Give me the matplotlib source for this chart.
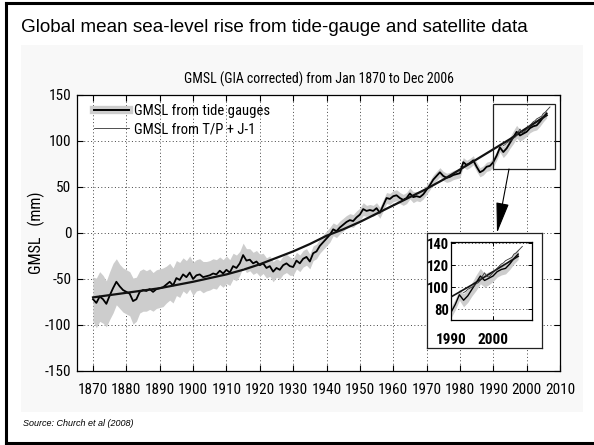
import numpy as np
import matplotlib
matplotlib.use("Agg")
import matplotlib.pyplot as plt
from matplotlib.patches import Rectangle, FancyArrowPatch
from matplotlib.lines import Line2D
from matplotlib.legend_handler import HandlerTuple
from matplotlib import font_manager

# ---------------- data ----------------
tide_years = list(range(1870, 2007))
tide_gmsl = [
    -72, -76, -69, -72, -77, -68, -60, -53, -58, -62,
    -64, -66, -74, -72, -64, -62, -63, -61, -64, -61,
    -60, -59, -56, -53, -57, -49, -51, -45, -48, -43,
    -50, -46, -45, -48, -47, -46, -44, -45, -41, -44,
    -40, -43, -36, -38, -33, -24, -30, -29, -33, -31,
    -35, -33, -38, -36, -42, -38, -40, -35, -33, -36,
    -37, -30, -33, -28, -26, -31, -22, -20, -14, -10,
    -6, -2, 4, 2, 6, 9, 12, 14, 13, 17,
    20, 26, 24, 25, 24, 27, 22, 30, 38, 37,
    40, 41, 38, 36, 38, 43, 39, 40, 39, 42,
    47, 52, 58, 62, 66, 62, 60, 61, 63, 64,
    65, 77, 74, 76, 79, 72, 66, 68, 72, 73,
    77, 84, 93, 88, 92, 98, 104, 110, 106, 108,
    110, 114, 116, 117, 121, 126, 130,
]
tide_err = [
    24, 27, 27, 26, 25, 26, 27, 25, 24, 24,
    24, 24, 25, 24, 23, 23, 22, 22, 21, 21,
    21, 21, 20, 20, 19, 19, 19, 18, 18, 18,
    18, 17, 17, 17, 16, 16, 16, 16, 15, 15,
    15, 14, 14, 14, 13, 13, 13, 12, 12, 12,
    12, 11, 11, 11, 11, 10, 10, 10, 10, 10,
    9, 9, 9, 9, 9, 8, 8, 8, 8, 8,
    8, 8, 7, 7, 7, 7, 7, 7, 7, 7,
    7, 7, 6, 6, 6, 6, 6, 6, 6, 6,
    6, 6, 6, 6, 6, 6, 6, 5, 5, 5,
    5, 5, 5, 5, 5, 5, 5, 5, 5, 5,
    5, 5, 5, 5, 5, 5, 5, 5, 5, 5,
    5, 5, 5, 6, 6, 6, 7, 7, 6, 6,
    5, 5, 5, 5, 5, 5, 5,
]
fit_years = [1870, 1875, 1880, 1885, 1890, 1895, 1900, 1905, 1910, 1915,
             1920, 1925, 1930, 1935, 1940, 1945, 1950, 1955, 1960, 1965,
             1970, 1975, 1980, 1985, 1990, 1995, 2000, 2006]
fit_gmsl = [-70, -67.5, -65, -62.5, -60, -56.5, -53, -49, -45, -40,
            -34, -27, -20, -12, -3, 4, 12, 21, 30, 39,
            48, 58, 69, 80, 91, 102, 114, 128]
sat_years = [1993.0, 1993.5, 1994.0, 1994.5, 1995.0, 1995.5, 1996.0, 1996.5,
             1997.0, 1997.5, 1998.0, 1998.5, 1999.0, 1999.5, 2000.0, 2000.5,
             2001.0, 2001.5, 2002.0, 2002.5, 2003.0, 2003.5, 2004.0, 2004.5,
             2005.0, 2005.5, 2006.0, 2006.5, 2007.0]
sat_gmsl = [95, 96, 98, 99, 100, 101, 103, 104,
            106, 110, 113, 110, 109, 111, 113, 115,
            117, 119, 121, 122, 124, 125, 126, 127,
            130, 131, 133, 135, 137]

x_ticks = [1870, 1880, 1890, 1900, 1910, 1920, 1930, 1940, 1950, 1960,
           1970, 1980, 1990, 2000, 2010]
y_ticks = [-150, -100, -50, 0, 50, 100, 150]
inset_x_ticks = [1990, 2000]
inset_y_ticks = [80, 100, 120, 140]

# ---------------- styling ----------------
names = {f.name for f in font_manager.fontManager.ttflist}
NARROW = ["Liberation Sans Narrow", "DejaVu Sans"] if "Liberation Sans Narrow" in names \
    else ["Roboto Condensed", "Liberation Sans", "DejaVu Sans"]
SANS = ["Liberation Sans", "DejaVu Sans"]
band_col = "#cdcdcd"

W, H = 594, 445
fig = plt.figure(figsize=(W / 100, H / 100), dpi=100)
fig.patch.set_facecolor("white")


def fx(px):
    return px / W


def fy(py):
    return 1 - py / H


# faint background panel of the pasted chart
fig.patches.append(Rectangle((fx(21), fy(412)), fx(583) - fx(21), fy(45) - fy(412),
                             transform=fig.transFigure, facecolor="#f8f8f8",
                             edgecolor="none", zorder=-10))
# outer slide frame
for xs, ys in [((6, 6), (3, 443)), ((6, 600), (3, 3)), ((6, 600), (443, 443))]:
    fig.add_artist(Line2D([fx(xs[0]), fx(xs[1])], [fy(ys[0]), fy(ys[1])],
                          transform=fig.transFigure, color="black", lw=2.2))

fig.text(fx(21), fy(27), "Global mean sea-level rise from tide-gauge and satellite data",
         family=SANS, fontsize=13.6, ha="left", va="center")
fig.text(fx(23), fy(423), "Source: Church et al (2008)", family=SANS,
         fontsize=6.5, style="italic", ha="left", va="center")

# ---------------- main axes ----------------
ax = fig.add_axes([fx(77), fy(371), fx(560) - fx(77), fy(95) - fy(371)])
ax.set_zorder(2)
ax.set_facecolor("white")
tg = np.array(tide_gmsl, dtype=float)
te = np.array(tide_err, dtype=float)
ax.fill_between(tide_years, tg - te, tg + te, color=band_col, lw=0, zorder=1)
ax.plot(tide_years, tide_gmsl, color="black", lw=1.3, zorder=3)
ax.plot(fit_years, fit_gmsl, color="#111111", lw=1.6, zorder=4)
ax.plot(sat_years, sat_gmsl, color="#333333", lw=0.6, zorder=5)

ax.set_xlim(1865.2, 2010)
ax.set_ylim(-150, 150)
ax.set_xticks(x_ticks)
ax.set_yticks(y_ticks)
ax.set_xticklabels([str(t) for t in x_ticks], family=NARROW, fontsize=11)
ax.set_yticklabels([str(t) for t in y_ticks], family=NARROW, fontsize=11)
ax.tick_params(direction="in", top=True, right=True, length=4, width=0.8)
ax.tick_params(axis="x", pad=9)
ax.tick_params(axis="y", pad=4)
ax.grid(True, linestyle=(0, (1, 2.5)), color="#444444", lw=0.7, zorder=0)
ax.set_axisbelow(True)
for s in ax.spines.values():
    s.set_linewidth(0.9)
ax.set_title("GMSL (GIA corrected) from Jan 1870 to Dec 2006", family=NARROW,
             fontsize=10, pad=8)
ax.set_ylabel("GMSL   (mm)", family=NARROW, fontsize=11.5, labelpad=0)

# zoom rectangle
ax.add_patch(Rectangle((1990, 70), 18.6, 70, fill=False, edgecolor="#222222",
                       lw=0.9, zorder=6))

h_tide = (Line2D([], [], color=band_col, lw=6), Line2D([], [], color="black", lw=1.4))
h_sat = Line2D([], [], color="#333333", lw=0.6)
leg = ax.legend([h_tide, h_sat], ["GMSL from tide gauges", "GMSL from T/P + J-1"],
                handler_map={tuple: HandlerTuple(ndivide=1, pad=0)},
                loc="upper left", bbox_to_anchor=(0.018, 1.0), frameon=False,
                prop={"family": NARROW, "size": 10.5}, handlelength=2.4,
                handletextpad=0.3, labelspacing=0.3, borderaxespad=0.2)

# ---------------- inset ----------------
box = fig.add_axes([fx(427), fy(348), fx(542) - fx(427), fy(233) - fy(348)])
box.set_zorder(3)
box.set_xticks([])
box.set_yticks([])
box.set_facecolor("white")
for s in box.spines.values():
    s.set_linewidth(0.9)
    s.set_color("#222222")

ins = fig.add_axes([fx(451), fy(320), fx(532) - fx(451), fy(242) - fy(320)])
ins.set_zorder(4)
ins.fill_between(tide_years, tg - te, tg + te, color=band_col, lw=0, zorder=1)
ins.plot(tide_years, tide_gmsl, color="black", lw=1.0, zorder=3)
ins.plot(fit_years, fit_gmsl, color="#111111", lw=1.2, zorder=4)
ins.plot(sat_years, sat_gmsl, color="#333333", lw=0.6, zorder=5)
ins.set_xlim(1990, 2009.3)
ins.set_ylim(70, 141)
ins.set_xticks(inset_x_ticks)
ins.set_yticks(inset_y_ticks)
ins.set_xticklabels([str(t) for t in inset_x_ticks], family=NARROW, fontsize=11,
                    fontweight="bold")
ins.set_yticklabels([str(t) for t in inset_y_ticks], family=NARROW, fontsize=10.5,
                    fontweight="bold")
ins.tick_params(direction="in", top=True, right=True, length=3, width=0.7)
ins.tick_params(axis="x", pad=9)
ins.tick_params(axis="y", pad=1.5)
ins.grid(True, linestyle=(0, (1, 2.5)), color="#444444", lw=0.7, zorder=0)
ins.set_axisbelow(True)
for s in ins.spines.values():
    s.set_linewidth(0.9)

# arrow from zoom rectangle to inset (drawn on top)
arr = FancyArrowPatch((509, H - 169), (497, H - 233), transform=None,
                      arrowstyle="-|>,head_length=2.4,head_width=0.5",
                      mutation_scale=8, color="black", lw=0.8, zorder=10,
                      shrinkA=0, shrinkB=0)
arr.set_clip_on(False)
fig.add_artist(arr)

fig.savefig("out.png", dpi=100)
